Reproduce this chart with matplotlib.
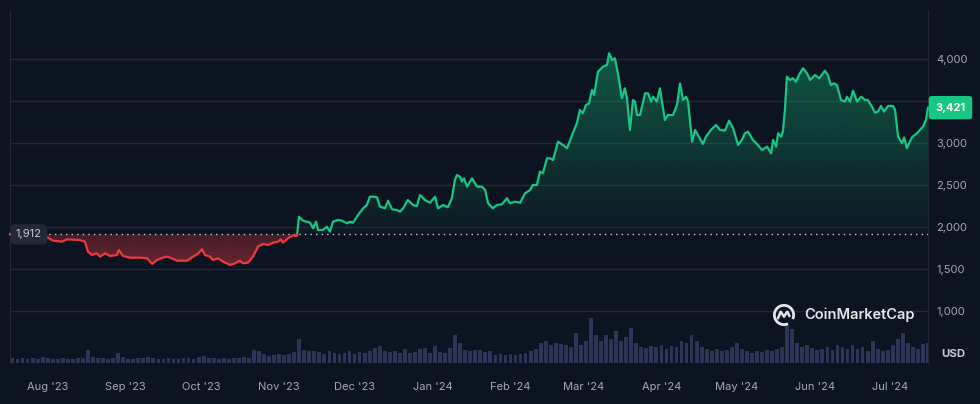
import numpy as np
import pandas as pd
import matplotlib
matplotlib.use('Agg')
import matplotlib.pyplot as plt
import matplotlib.dates as mdates
import matplotlib.transforms as mtrans
from matplotlib.patches import Rectangle, Arc
from matplotlib.path import Path
from matplotlib.colors import to_rgba

plt.rcParams['font.family'] = ['Inter', 'DejaVu Sans']

# ETH / USD, one year
start = pd.Timestamp('2023-07-17')
day = [0, 4.0, 8.0, 11.9, 15.1, 17.1, 20.7, 22.7, 27.8, 29.8, 31.0, 32.6, 34.6, 35.8,
       37.8, 39.8, 42.5, 43.3, 44.9, 47.7, 51.7, 54.5, 56.5, 58.4, 60.8, 62.4, 64.4,
       66.4, 70.4, 72.8, 74.7, 76.3, 77.5, 79.5, 80.7, 82.7, 84.7, 87.5, 89.5, 91.4,
       92.6, 94.6, 96.6, 98.6, 100.6, 102.6, 104.6, 106.6, 107.7, 108.5, 110.5, 112.5,
       114.1, 114.9, 116.5, 119.3, 120.5, 121.7, 122.5, 124.4, 126.0, 127.2, 128.4,
       130.4, 132.0, 134.0, 135.2, 136.4, 138.4, 140.4, 141.9, 143.1, 144.3, 145.9,
       147.1, 149.1, 150.3, 151.9, 153.9, 155.1, 156.3, 158.2, 160.2, 161.8, 163.0,
       165.0, 167.0, 169.0, 170.2, 172.2, 174.1, 175.7, 176.9, 177.7, 178.9, 179.7,
       180.5, 181.7, 183.7, 185.7, 187.7, 188.9, 190.1, 192.0, 193.6, 195.6, 197.6,
       198.8, 200.8, 202.8, 204.8, 206.8, 207.9, 209.5, 210.7, 211.9, 213.5, 214.7,
       215.9, 217.9, 219.9, 221.5, 223.5, 225.4, 226.6, 227.8, 229.0, 230.2, 231.4,
       232.2, 233.8, 235.8, 237.4, 238.2, 239.4, 240.5, 241.7, 243.3, 244.5, 245.3,
       246.5, 247.7, 248.5, 249.3, 250.5, 252.5, 253.7, 254.9, 255.7, 257.2, 258.4,
       260.4, 261.6, 263.6, 265.2, 266.4, 267.6, 268.8, 269.6, 271.2, 272.4, 273.9,
       275.5, 276.7, 278.7, 280.7, 282.3, 284.3, 285.9, 287.5, 289.5, 291.0, 292.2,
       293.4, 295.4, 297.0, 299.0, 301.0, 302.6, 303.4, 304.6, 305.4, 306.6, 307.3,
       308.1, 308.9, 310.1, 311.3, 312.5, 313.7, 315.3, 316.9, 318.1, 320.1, 321.7,
       324.0, 325.2, 326.4, 327.6, 328.8, 330.4, 332.0, 332.8, 334.0, 335.2, 336.8,
       338.4, 340.0, 341.1, 342.7, 343.9, 345.1, 346.3, 347.5, 349.1, 351.1, 351.9,
       353.1, 354.7, 355.5, 356.6, 358.6, 360.6, 363.0, 364.2, 365.0]
price = [1912, 1895, 1885, 1868, 1873, 1837, 1825, 1853, 1845, 1825, 1706, 1667, 1687, 1647,
         1687, 1655, 1667, 1726, 1655, 1635, 1635, 1627, 1560, 1607, 1635, 1647, 1627,
         1599, 1599, 1647, 1680, 1734, 1667, 1647, 1607, 1627, 1587, 1548, 1568, 1599,
         1568, 1575, 1647, 1766, 1798, 1786, 1813, 1825, 1853, 1813, 1865, 1900,
         1893, 2123, 2075, 2052, 1984, 2063, 1964, 1964, 2004, 1944, 2063,
         2083, 2075, 2044, 2063, 2052, 2143, 2222, 2262, 2361, 2361, 2354,
         2242, 2222, 2313, 2211, 2202, 2182, 2222, 2321, 2262, 2250, 2381,
         2321, 2289, 2361, 2222, 2262, 2235, 2342, 2560, 2619, 2599, 2540,
         2580, 2480, 2580, 2480, 2480, 2440, 2282, 2222, 2262, 2270, 2342,
         2282, 2301, 2289, 2401, 2440, 2500, 2500, 2659, 2640, 2818, 2818,
         2798, 3015, 2976, 2937, 3095, 3234, 3393, 3354, 3452, 3472, 3631,
         3571, 3849, 3909, 3929, 4068, 3988, 4008, 3829, 3532, 3651, 3532,
         3155, 3512, 3492, 3333, 3333, 3591, 3591, 3492, 3551, 3492, 3651,
         3274, 3333, 3333, 3452, 3710, 3512, 3551, 3492, 3015, 3155, 3075,
         2988, 3075, 3155, 3214, 3155, 3147, 3266, 3175, 2976, 3036, 3115,
         3135, 3036, 2988, 2917, 2956, 2877, 3036, 2956, 3115, 3075, 3135,
         3393, 3789, 3750, 3770, 3730, 3810, 3889, 3829, 3750, 3810, 3770,
         3860, 3810, 3690, 3710, 3690, 3512, 3492, 3551, 3492, 3623, 3492,
         3551, 3512, 3512, 3432, 3361, 3373, 3440, 3373, 3440, 3440, 3393,
         3075, 2996, 3067, 2937, 3067, 3115, 3194, 3274, 3421]

# traded volume, two-day buckets (relative units)
volume = [5, 4, 5, 4, 5, 4, 6, 5, 4, 4, 5, 4, 4, 5, 5, 13, 6, 5, 5, 4,
          5, 10, 6, 4, 4, 5, 5, 6, 5, 4, 4, 5, 4, 4, 5, 5, 4, 6, 7, 5,
          5, 4, 5, 4, 5, 5, 6, 5, 13, 12, 9, 7, 8, 9, 8, 9, 11, 24, 13, 12,
          12, 11, 9, 12, 10, 9, 10, 12, 9, 11, 10, 12, 15, 17, 12, 11, 12, 10, 14, 10,
          11, 14, 15, 10, 17, 11, 10, 15, 28, 20, 13, 12, 13, 13, 11, 12, 8, 9, 8, 9,
          8, 9, 10, 12, 14, 20, 22, 18, 20, 19, 18, 16, 30, 18, 22, 45, 28, 22, 28, 24,
          32, 22, 26, 35, 20, 16, 15, 17, 16, 18, 14, 17, 16, 22, 20, 28, 22, 16, 14, 12,
          14, 12, 13, 16, 20, 14, 12, 10, 12, 11, 13, 12, 14, 16, 37, 34, 20, 16, 18, 15,
          13, 14, 16, 13, 18, 16, 14, 18, 14, 16, 12, 22, 14, 12, 13, 18, 24, 30, 20, 16,
          14, 19, 20]

yticks = [1000, 1500, 2000, 2500, 3000, 3500, 4000]
base = price[0]
last = price[-1]

bg = '#0d1421'
green = '#16c784'
red = '#ea3943'
grid_c = '#222836'
txt_c = '#a1a7bb'

dates = start + pd.to_timedelta(day, unit='D')
x = mdates.date2num(dates)
p = np.array(price, dtype=float)
vdates = pd.date_range(start, periods=len(volume), freq='2D') + pd.Timedelta(days=1)
vx = mdates.date2num(vdates)

fig = plt.figure(figsize=(9.8, 4.04), dpi=100, facecolor=bg)
rect = [10 / 980, 41 / 404, 918 / 980, 353 / 404]

# volume underneath
axv = fig.add_axes(rect, facecolor=bg, zorder=1)
axv.bar(vx, volume, width=1.5, color='#2e3358', linewidth=0)
axv.set_ylim(0, 353)
axv.set_xlim(x[0], x[-1])
axv.axis('off')

ax = fig.add_axes(rect, zorder=2)
ax.patch.set_alpha(0)

# gradient fills clipped to the area between line and baseline
def grad_fill(where, color, a_bottom, a_top, y0, y1):
    coll = ax.fill_between(x, p, base, where=where, interpolate=True,
                           color='none', linewidth=0)
    path = Path.make_compound_path(*coll.get_paths())
    rgba = np.zeros((256, 1, 4))
    rgba[..., :3] = to_rgba(color)[:3]
    rgba[:, 0, 3] = np.linspace(a_bottom, a_top, 256)
    im = ax.imshow(rgba, aspect='auto', origin='lower', interpolation='bilinear',
                   extent=[x[0], x[-1], y0, y1], zorder=2)
    im.set_clip_path(path, ax.transData)

grad_fill(p >= base, green, 0.03, 0.38, base, p.max())
grad_fill(p <= base, red, 0.25, 0.42, base, p.min())

ln_g, = ax.plot(x, p, color=green, lw=1.6, zorder=4, solid_joinstyle='round')
ln_g.set_clip_path(Rectangle((x[0] - 5, base), 500, 10000, transform=ax.transData))
ln_r, = ax.plot(x, p, color=red, lw=1.6, zorder=4, solid_joinstyle='round')
ln_r.set_clip_path(Rectangle((x[0] - 5, base - 10000), 500, 10000, transform=ax.transData))

ax.axhline(base, color='#c9ccd6', lw=1, ls=(0, (1, 3)), zorder=3)

ax.set_xlim(x[0], x[-1])
ax.set_ylim(381, 4583)
ax.set_yticks(yticks)
# the 3,500 label sits under the last-price tag
ax.set_yticklabels(['' if v == 3500 else f'{v:,}' for v in yticks])
ax.yaxis.tick_right()
ax.yaxis.grid(True, color=grid_c, lw=1)
ax.set_axisbelow(True)
ax.tick_params(axis='y', length=0, pad=6, labelsize=8, labelcolor=txt_c)

ax.xaxis.set_major_locator(mdates.MonthLocator())
ax.xaxis.set_major_formatter(mdates.DateFormatter("%b '%y"))
ax.tick_params(axis='x', length=0, pad=14, labelsize=8, labelcolor=txt_c)

for s in ['top', 'bottom']:
    ax.spines[s].set_visible(False)
for s in ['left', 'right']:
    ax.spines[s].set_color(grid_c)

# price tags
yblend = mtrans.blended_transform_factory(ax.transAxes, ax.transData)
ax.text(0.0207, base, '1,912', transform=yblend, ha='center', va='center',
        fontsize=8.2, color='#c3c6d0', zorder=6,
        bbox=dict(boxstyle='round,pad=0.45,rounding_size=0.4', fc='#232836', ec='none'))
ax.text(1.0245, last, f'{last:,}', transform=yblend, ha='center', va='center',
        fontsize=8, color='white', weight='bold', zorder=6, clip_on=False,
        bbox=dict(boxstyle='round,pad=0.6,rounding_size=0.3', fc=green, ec='none'))

fig.text(953 / 980, (404 - 354) / 404, 'USD', ha='center', va='center',
         fontsize=8.2, weight='bold', color='#c5c9d3')

# watermark
fig.text(804 / 980, (404 - 315) / 404, 'CoinMarketCap', ha='left', va='center',
         fontsize=10.5, weight='semibold', color='#e4e6ec')
axl = fig.add_axes([773 / 980, (404 - 326) / 404, 22 / 980, 22 / 404], zorder=5)
axl.set_xlim(-1, 1)
axl.set_ylim(-1, 1)
axl.axis('off')
axl.add_patch(Arc((0, 0), 1.75, 1.75, theta1=-25, theta2=295, color='#e4e6ec', lw=2))
axl.plot([-0.55, -0.3, 0.0, 0.3, 0.5], [-0.3, 0.3, -0.15, 0.3, -0.1], color='#e4e6ec',
         lw=1.8, solid_joinstyle='round', solid_capstyle='round')

fig.savefig('out.png', dpi=100, facecolor=bg)
